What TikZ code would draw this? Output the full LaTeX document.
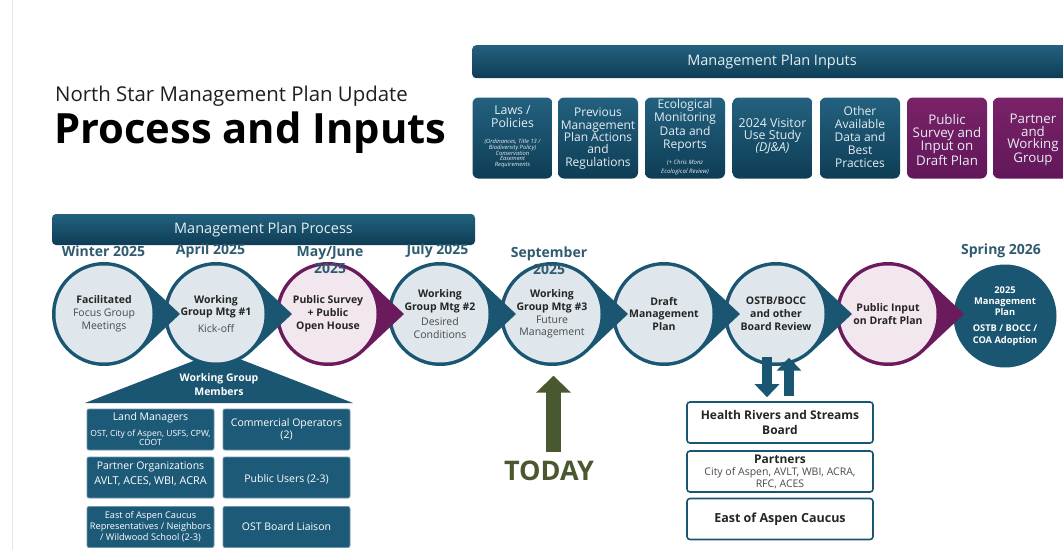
\documentclass[tikz,border=0pt]{standalone}
\usepackage{fontspec}
\setmainfont{Open Sans}
\usetikzlibrary{calc,arrows.meta}
\definecolor{ndark}{HTML}{1A5571}
\definecolor{ntop}{HTML}{23617F}
\definecolor{nbot}{HTML}{0E3D55}
\definecolor{ncirc}{HTML}{DFE7EC}
\definecolor{npurp}{HTML}{6B1A5C}
\definecolor{npurptop}{HTML}{7A2268}
\definecolor{npurpbot}{HTML}{62175A}
\definecolor{npink}{HTML}{F2E6EF}
\definecolor{ndate}{HTML}{2F5B70}
\definecolor{nolive}{HTML}{4A5830}
\definecolor{ntxt}{HTML}{252525}
\definecolor{ngray}{HTML}{4A4A4A}
\definecolor{nlight}{HTML}{E6EEF2}
\definecolor{nmem}{HTML}{1D5A78}
\definecolor{nmemline}{HTML}{6F97AB}
\newcommand{\nfs}[2]{\fontsize{#1}{#2}\selectfont}
\newcommand{\ndrop}[5]{%
  \fill[#2] (#1+76,314) -- (#1+35.58,314+37.92) arc[start angle=46.8,end angle=313.2,radius=52] -- cycle;
  \node[circ, fill=#3] (#4) at (#1,314) {#5};
}
\begin{document}
\begin{tikzpicture}[x=1pt,y=-1pt,
  banner/.style={rounded corners=4pt, top color=ntop, bottom color=nbot, text=nlight, font=\nfs{14.5}{16}, inner sep=0pt},
  inbox/.style={rounded corners=6pt, top color=ntop, bottom color=nbot, minimum width=80pt, minimum height=81pt, inner sep=0pt},
  pbox/.style={rounded corners=6pt, top color=npurptop, bottom color=npurpbot, minimum width=80pt, minimum height=81pt, inner sep=0pt},
  intext/.style={text=nlight, align=center, inner sep=0pt},
  circ/.style={circle, minimum size=97pt, inner sep=0pt, align=center, text=ntxt, font=\nfs{10.5}{12.8}},
  datelbl/.style={text=ndate, font=\nfs{14}{17}\bfseries, align=center, inner sep=0pt},
  mbox/.style={rounded corners=2pt, fill=nmem, draw=nmemline, line width=0.8pt, minimum width=127pt, minimum height=41pt, inner sep=0pt},
  mtext/.style={text=white, align=center, inner sep=0pt},
  rbox/.style={rounded corners=3pt, fill=white, draw=ndark, line width=1.6pt, minimum width=186pt, minimum height=41pt, inner sep=0pt},
  rtext/.style={text=ntxt, align=center, inner sep=0pt},
  fatarrow/.style={draw=ndark, line width=10pt, -{Triangle[width=24pt,length=13pt]}},
  todayarrow/.style={draw=nolive, line width=15pt, -{Triangle[width=34pt,length=17pt]}},
]
\useasboundingbox (0,0) rectangle (1063,550);
\fill[white] (0,0) rectangle (1063,550);
\draw[black!10, line width=0.8pt] (12,0) -- (12,550);

% Title
\node[anchor=base west, font=\nfs{20.4}{24}, text=black!88, inner sep=0pt] (sub) at (55,101) {North Star Management Plan Update};
\node[anchor=base west, font=\nfs{41.7}{48}\bfseries, text=black, inner sep=0pt] (ttl) at (54,143) {Process and Inputs};

% Inputs banner
\node[banner, minimum width=610pt, minimum height=33pt, anchor=north west] (inb) at (472,45) {};
\node[text=nlight, font=\nfs{14.5}{16}, inner sep=0pt] (inbt) at (772,61.5) {Management Plan Inputs};

% Input boxes
\node[inbox] (in1) at (512.5,138) {};
\node[inbox] (in2) at (598,138) {};
\node[inbox] (in3) at (685,138) {};
\node[inbox] (in4) at (772.5,138) {};
\node[inbox] (in5) at (860,138) {};
\node[pbox] (in6) at (947,138) {};
\node[pbox] (in7) at (1033,138) {};

\node[intext, font=\nfs{12.3}{13.2}] (in1a) at (512.5,117) {Laws /\\Policies};
\node[intext, font=\nfs{5.8}{5.7}\itshape] (in1b) at (512.5,153.5) {(Ordinances, Title 13 /\\Biodiversity Policy)\\Conservation\\Easement\\Requirements};
\node[intext, font=\nfs{12}{12.3}] (in2a) at (598,138.5) {Previous\\Management\\Plan Actions\\and\\Regulations};
\node[intext, font=\nfs{12}{13.3}] (in3a) at (685,125.5) {Ecological\\Monitoring\\Data and\\Reports};
\node[intext, font=\nfs{6}{8.5}\itshape] (in3b) at (685,167.5) {(+ Chris Monz\\Ecological Review)};
\node[intext, font=\nfs{12.3}{12}] (in4a) at (772.5,136.5) {2024 Visitor\\Use Study\\\textit{(DJ\&A)}};
\node[intext, font=\nfs{12}{13.2}] (in5a) at (860,137) {Other\\Available\\Data and\\Best\\Practices};
\node[intext, font=\nfs{13.3}{12.4}] (in6a) at (947,140) {Public\\Survey and\\Input on\\Draft Plan};
\node[intext, font=\nfs{13.3}{12.4}] (in7a) at (1033,140) {Partner\\and\\Working\\Group};

% Process banner
\node[banner, minimum width=423pt, minimum height=31pt] (pb) at (263.5,229.5) {Management Plan Process};

% Working group triangle
\fill[ndark] (85,403) -- (219,351) -- (353,403) -- cycle;
\node[mtext, font=\nfs{10.5}{14}\bfseries] (wgm) at (219,385) {Working Group\\Members};

% Process circles (right to left)
\node[circ, minimum size=103pt, fill=ndark, text=white, font=\nfs{9.3}{11.2}\bfseries] (c9) at (1005,316) {2025\\Management\\Plan\\[5pt]OSTB / BOCC /\\COA Adoption};
\ndrop{888}{npurp}{npink}{c8}{\textbf{Public Input}\\\textbf{on Draft Plan}}
\ndrop{776}{ndark}{ncirc}{c7}{\textbf{OSTB/BOCC}\\\textbf{and other}\\\textbf{Board Review}}
\ndrop{664}{ndark}{ncirc}{c6}{\textbf{Draft}\\\textbf{Management}\\\textbf{Plan}}
\ndrop{552}{ndark}{ncirc}{c5}{\textbf{Working}\\\textbf{Group Mtg \#3}\\\textcolor{ngray}{Future}\\\textcolor{ngray}{Management}}
\ndrop{440}{ndark}{ncirc}{c4}{\textbf{Working}\\\textbf{Group Mtg \#2}\\[3pt]\textcolor{ngray}{Desired}\\\textcolor{ngray}{Conditions}}
\ndrop{328}{npurp}{npink}{c3}{\textbf{Public Survey}\\\textbf{+ Public}\\\textbf{Open House}}
\ndrop{216}{ndark}{ncirc}{c2}{\textbf{Working}\\\textbf{Group Mtg \#1}\\[4pt]\textcolor{ngray}{Kick-off}}
\ndrop{104}{ndark}{ncirc}{c1}{\textbf{Facilitated}\\\textcolor{ngray}{Focus Group}\\\textcolor{ngray}{Meetings}}

% Dates
\node[datelbl] (d1) at (103.5,251) {Winter 2025};
\node[datelbl] (d2) at (210.5,251) {April 2025};
\node[datelbl] (d3) at (330,260) {May/June\\2025};
\node[datelbl] (d4) at (437.5,251) {July 2025};
\node[datelbl] (d5) at (549,261) {September\\2025};
\node[datelbl] (d9) at (1001,251) {Spring 2026};

% Working group member boxes
\node[mbox] (m1) at (150.5,429.5) {};
\node[mbox] (m2) at (286.5,429.5) {};
\node[mbox] (m3) at (150.5,477.5) {};
\node[mbox] (m4) at (286.5,477.5) {};
\node[mbox] (m5) at (150.5,527) {};
\node[mbox] (m6) at (286.5,527) {};
\node[mtext, font=\nfs{10.5}{12}] (m1a) at (150.5,418) {Land Managers};
\node[mtext, font=\nfs{8.5}{8}] (m1b) at (150.5,438) {OST, City of Aspen, USFS, CPW,\\CDOT};
\node[mtext, font=\nfs{10.5}{12}] (m2a) at (286.5,429) {Commercial Operators\\(2)};
\node[mtext, font=\nfs{10.5}{12}] (m3a) at (150.5,467) {Partner Organizations};
\node[mtext, font=\nfs{10.8}{12}] (m3b) at (150.5,481) {AVLT, ACES, WBI, ACRA};
\node[mtext, font=\nfs{10.5}{12}] (m4a) at (286.5,479) {Public Users (2-3)};
\node[mtext, font=\nfs{9.2}{11}] (m5a) at (150.5,527) {East of Aspen Caucus\\Representatives / Neighbors\\/ Wildwood School (2-3)};
\node[mtext, font=\nfs{10.5}{12}] (m6a) at (286.5,526.5) {OST Board Liaison};

% Right boxes
\node[rbox] (r1) at (780,422.5) {};
\node[rbox] (r2) at (780,471.5) {};
\node[rbox] (r3) at (780,519) {};
\node[rtext, font=\nfs{12}{15}\bfseries] (r1a) at (780,422) {Health Rivers and Streams\\Board};
\node[rtext, font=\nfs{12}{13}\bfseries] (r2a) at (780,459.5) {Partners};
\node[rtext, font=\nfs{10.5}{12}, text=ngray] (r2b) at (780,478.5) {City of Aspen, AVLT, WBI, ACRA,\\RFC, ACES};
\node[rtext, font=\nfs{12.5}{13}\bfseries] (r3a) at (780,519.5) {East of Aspen Caucus};

% Review arrows
\draw[fatarrow] ($(c7.south)+(-9,-6)$) -- ($(r1.north)+(-13,-4)$);
\draw[fatarrow] ($(r1.north)+(9,-5)$) -- ($(c7.south)+(13,-5)$);

% TODAY
\node[font=\nfs{27}{30}\bfseries, text=nolive, inner sep=0pt] (today) at (549,471) {TODAY};
\coordinate (tbase) at (553.5,452);
\draw[todayarrow] (tbase) -- ($(c5.south)+(1.5,13)$);
\end{tikzpicture}
\end{document}
